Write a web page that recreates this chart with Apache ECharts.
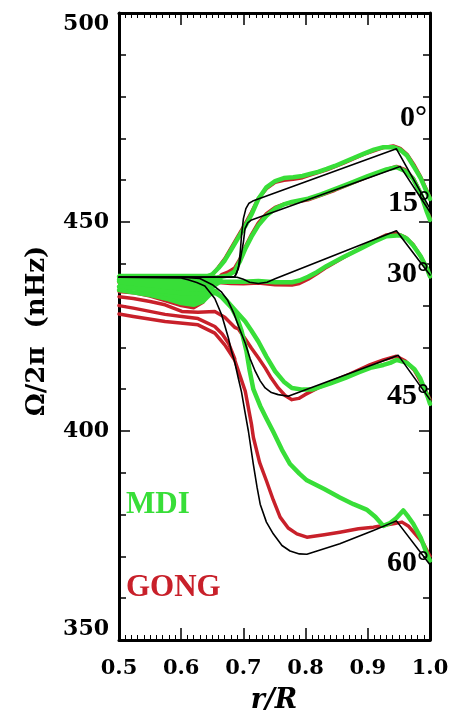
<!DOCTYPE html>
<html>
<head>
<meta charset="utf-8">
<script src="https://cdn.jsdelivr.net/npm/echarts@6/dist/echarts.min.js"></script>
<style>
html,body{margin:0;padding:0;background:#fff;}
#chart{width:452px;height:715px;}
</style>
</head>
<body>
<div id="chart"></div>
<script>
// ---- axis ticks ----
const xTicks = [0.5, 0.6, 0.7, 0.8, 0.9, 1.0];
const yTicks = [350, 400, 450, 500];

// ---- model (black) curves, [r/R, nHz] ----
const model0 = [[0.5,436.8],[0.67,436.8],[0.686,436.9],[0.692,438.9],[0.695,442.9],[0.697,446.8],[0.700,450.8],[0.704,453.2],[0.709,454.5],[0.715,455.0],[0.946,467.5],[1.0,453.2]];
const model15 = [[0.5,436.8],[0.686,436.9],[0.689,437.7],[0.6945,440.5],[0.700,445.2],[0.7026,448.4],[0.707,449.8],[0.713,450.5],[0.952,463.3],[1.0,452.4]];
const model30 = [[0.5,436.8],[0.69,436.8],[0.70,436.3],[0.71,435.6],[0.724,435.3],[0.738,435.6],[0.751,436.4],[0.946,447.9],[1.0,437.3]];
const model45 = [[0.5,436.8],[0.6,436.8],[0.63,436.5],[0.65,435],[0.665,433.2],[0.675,431.2],[0.685,428],[0.695,424],[0.703,421],[0.711,417.2],[0.719,414.3],[0.727,412],[0.735,410.3],[0.745,409.2],[0.756,408.7],[0.772,408.3],[0.949,418.1],[1.0,407.5]];
const model60 = [[0.5,436.8],[0.6,436.6],[0.611,436.2],[0.625,435.5],[0.638,434.7],[0.654,431.7],[0.665,427.8],[0.676,422.2],[0.681,419],[0.686,416.5],[0.692,412.5],[0.697,409.3],[0.702,405],[0.708,400],[0.716,392],[0.722,386.5],[0.727,382.5],[0.737,378.2],[0.748,375.4],[0.762,372.6],[0.775,371.3],[0.79,370.6],[0.802,370.5],[0.855,373],[0.909,376.2],[0.946,378.5],[1.0,368]];

// ---- MDI (green) ----
const mdiBandUpper = [[0.5,437.4],[0.645,437.4],[0.655,437],[0.665,436.3]];
const mdiBandLower = [[0.5,434.1],[0.526,433.8],[0.55,432.8],[0.574,431.6],[0.601,430.5],[0.622,430.2],[0.638,431.7],[0.654,434.5],[0.665,435.6]];
const mdi0 = [[0.5,436.9],[0.64,436.9],[0.65,437.5],[0.66,439],[0.67,440.8],[0.681,443.5],[0.692,446.3],[0.703,449],[0.713,451.8],[0.724,455.5],[0.737,458.3],[0.751,459.8],[0.765,460.5],[0.78,460.7],[0.795,461],[0.807,461.5],[0.82,462],[0.834,462.7],[0.847,463.4],[0.861,464.3],[0.877,465.3],[0.893,466.3],[0.91,467.3],[0.925,467.9],[0.941,467.9],[0.952,467.3],[0.963,465.9],[0.975,463],[0.985,460.5],[0.995,457.1],[1.0,455.5]];
const mdi15 = [[0.5,436.2],[0.645,436.2],[0.66,436.8],[0.675,437.2],[0.686,438.2],[0.695,440.8],[0.703,443.6],[0.713,446.5],[0.724,449.2],[0.737,451.5],[0.751,453.2],[0.765,454.2],[0.778,454.8],[0.804,455.6],[0.825,456.6],[0.847,457.9],[0.87,459.2],[0.9,461],[0.93,462.6],[0.946,463.1],[0.96,462.2],[0.973,460.3],[0.985,456.8],[0.995,452.4],[1.0,450.5]];
const mdi30 = [[0.5,435.8],[0.64,435.8],[0.67,435.7],[0.7,435.7],[0.724,435.9],[0.751,435.6],[0.778,435.6],[0.79,436],[0.804,436.9],[0.818,438],[0.834,439.5],[0.861,441.6],[0.888,443.6],[0.91,445.3],[0.93,446.6],[0.952,446.8],[0.963,446],[0.973,444.4],[0.985,441.8],[0.995,438.9],[1.0,437]];
const mdi45 = [[0.5,434.5],[0.55,433.8],[0.6,433],[0.64,432.8],[0.655,433],[0.67,431.7],[0.686,429],[0.703,426.2],[0.713,424],[0.724,421.4],[0.737,417.8],[0.751,414.3],[0.765,411.8],[0.778,410.3],[0.795,409.9],[0.81,409.9],[0.84,411.4],[0.864,412.7],[0.885,414],[0.904,415.1],[0.925,415.8],[0.936,416.3],[0.946,417],[0.963,416.3],[0.975,414.8],[0.984,412.7],[0.997,407.9],[1.0,406.5]];
const mdi60 = [[0.5,433.7],[0.55,432.5],[0.58,431.5],[0.6,430.6],[0.62,430.2],[0.635,431],[0.645,432.5],[0.655,433.5],[0.665,432],[0.681,429.5],[0.69,427],[0.697,424],[0.705,419],[0.71,414.5],[0.716,410],[0.727,406],[0.737,403],[0.748,399.8],[0.762,395.5],[0.775,392.1],[0.79,389.8],[0.802,388.2],[0.83,386.1],[0.855,384.1],[0.877,382.5],[0.898,381.2],[0.912,379.5],[0.925,377.3],[0.936,378],[0.946,379.2],[0.957,381],[0.965,379.5],[0.973,377.8],[0.985,374.5],[0.995,370.6],[1.0,369]];

// ---- GONG (red) ----
const gong0 = [[0.5,436.3],[0.64,436.3],[0.65,437.3],[0.66,439.2],[0.67,441.2],[0.681,444],[0.692,446.8],[0.703,449.6],[0.713,452.3],[0.724,455.6],[0.737,458],[0.751,459.5],[0.765,460],[0.78,460.2],[0.795,460.6],[0.807,461.2],[0.82,461.8],[0.834,462.5],[0.861,464.1],[0.893,466.2],[0.925,467.8],[0.941,468.2],[0.952,467.6],[0.963,466.2],[0.975,463.5],[0.985,460.8],[0.995,457.5],[1.0,455.8]];
const gong15 = [[0.5,433.4],[0.523,433.1],[0.55,432.3],[0.574,431.2],[0.6,430],[0.62,429.5],[0.635,430.8],[0.645,433],[0.655,435.6],[0.665,437.4],[0.675,438],[0.686,439],[0.695,441.3],[0.703,444],[0.713,447],[0.724,449.8],[0.737,452],[0.751,453.5],[0.765,454.3],[0.778,454.6],[0.804,455.3],[0.847,457.6],[0.9,460.8],[0.93,462.5],[0.946,463.3],[0.96,462.5],[0.973,460.5],[0.985,457],[0.995,452.8],[1.0,451]];
const gong30 = [[0.5,435.5],[0.66,435.5],[0.68,435.3],[0.7,435.2],[0.724,435.4],[0.751,435],[0.778,434.9],[0.79,435.3],[0.804,436.3],[0.818,437.6],[0.834,439.2],[0.861,441.5],[0.888,443.7],[0.91,445.5],[0.93,446.9],[0.946,447.3],[0.96,446.4],[0.973,444.6],[0.985,441.8],[0.995,438.8],[1.0,437]];
const gong45 = [[0.5,432.1],[0.523,431.7],[0.55,431],[0.574,430.2],[0.601,428.6],[0.627,428.4],[0.654,428.6],[0.67,427.2],[0.686,424.8],[0.692,424.4],[0.703,422],[0.713,419.8],[0.724,417.5],[0.735,415.1],[0.745,412.6],[0.756,410.3],[0.767,408.5],[0.778,407.5],[0.789,407.8],[0.799,408.7],[0.82,410.3],[0.845,412],[0.871,413.6],[0.904,415.9],[0.925,417],[0.946,417.9],[0.96,416.8],[0.975,414.5],[0.99,410.5],[1.0,407.5]];
const gong60 = [[0.5,428],[0.523,427.4],[0.574,426.2],[0.627,425.4],[0.654,423.4],[0.67,420.6],[0.686,417],[0.695,413],[0.703,409.5],[0.713,401.6],[0.716,398.5],[0.726,392.5],[0.737,388.1],[0.748,383.5],[0.759,379.4],[0.772,376.8],[0.786,375.4],[0.802,374.6],[0.83,375.2],[0.855,375.8],[0.885,376.6],[0.909,377],[0.941,377.8],[0.955,378.2],[0.965,377.3],[0.975,375.6],[0.989,373.2],[1.0,370]];
const gongLow = [[0.5,430],[0.523,429.4],[0.574,427.9],[0.601,427.4],[0.627,426.9],[0.654,425],[0.666,423.2],[0.676,421],[0.686,417.3]];

// ---- annotations ----
const latLabels = ['0°', '15°', '30°', '45°', '60°'];
const legendLabels = ['MDI', 'GONG'];

const GREEN = '#38de38';
const RED = '#c8202a';

function lineSeries(data, color, width, z) {
  return {
    type: 'line', data: data, xAxisIndex: 0, yAxisIndex: 0,
    showSymbol: false, symbol: 'none', smooth: false, z: z,
    lineStyle: { color: color, width: width, cap: 'round', join: 'round' },
    silent: true, animation: false
  };
}

const chart = echarts.init(document.getElementById('chart'), null, { renderer: 'canvas' });

const axisBase = {
  axisLine: { show: true, onZero: false, lineStyle: { color: '#000', width: 3 } },
  splitLine: { show: false }
};

const option = {
  backgroundColor: '#fff',
  animation: false,
  grid: { left: 119, right: 22, top: 13, bottom: 75 },
  xAxis: [
    Object.assign({}, axisBase, {
      type: 'value', position: 'bottom', min: 0.5, max: 1.0, interval: 0.1,
      axisTick: { show: true, inside: true, length: 12, lineStyle: { color: '#000', width: 1.5 } },
      minorTick: { show: true, splitNumber: 10, length: 5, lineStyle: { color: '#000', width: 1 } },
      axisLabel: {
        show: true, margin: 18, color: '#000',
        fontFamily: 'DejaVu Serif', fontWeight: 'bold', fontSize: 21,
        formatter: v => { const t = xTicks.find(k => Math.abs(k - v) < 1e-6); return t === undefined ? '' : t.toFixed(1); }
      }
    }),
    Object.assign({}, axisBase, {
      type: 'value', position: 'top', min: 0.5, max: 1.0, interval: 0.1,
      axisTick: { show: true, inside: true, length: 12, lineStyle: { color: '#000', width: 1.5 } },
      minorTick: { show: true, splitNumber: 10, length: 5, lineStyle: { color: '#000', width: 1 } },
      axisLabel: { show: false }
    })
  ],
  yAxis: [
    Object.assign({}, axisBase, {
      type: 'value', position: 'left', min: 350, max: 500, interval: 50,
      axisTick: { show: true, inside: true, length: 11, lineStyle: { color: '#000', width: 1.5 } },
      minorTick: { show: true, splitNumber: 5, length: 7, lineStyle: { color: '#000', width: 1.5 } },
      axisLabel: {
        show: true, margin: 10, color: '#000',
        fontFamily: 'DejaVu Serif', fontWeight: 'bold', fontSize: 22,
        verticalAlignMaxLabel: 'top', verticalAlignMinLabel: 'bottom',
        formatter: v => { const t = yTicks.find(k => Math.abs(k - v) < 1e-6); return t === undefined ? '' : String(t); }
      }
    }),
    Object.assign({}, axisBase, {
      type: 'value', position: 'right', min: 350, max: 500, interval: 50,
      axisTick: { show: true, inside: true, length: 11, lineStyle: { color: '#000', width: 1.5 } },
      minorTick: { show: true, splitNumber: 5, length: 7, lineStyle: { color: '#000', width: 1.5 } },
      axisLabel: { show: false }
    })
  ],
  series: [
    lineSeries(gong0, RED, 3.5, 2),
    lineSeries(gong15, RED, 3.5, 2),
    lineSeries(gong30, RED, 3.5, 2),
    lineSeries(gong45, RED, 3.5, 2),
    lineSeries(gong60, RED, 3.5, 2),
    lineSeries(gongLow, RED, 3.5, 2),
    {
      type: 'custom', xAxisIndex: 0, yAxisIndex: 0, z: 3, silent: true, animation: false,
      data: [[0.5, 437]],
      renderItem: function (params, api) {
        const pts = mdiBandUpper.concat(mdiBandLower.slice().reverse()).map(p => api.coord(p));
        return { type: 'polygon', shape: { points: pts }, style: { fill: GREEN, stroke: GREEN, lineWidth: 2 } };
      }
    },
    lineSeries(mdi0, GREEN, 4.5, 3),
    lineSeries(mdi15, GREEN, 4.5, 3),
    lineSeries(mdi30, GREEN, 4.5, 3),
    lineSeries(mdi45, GREEN, 4.5, 3),
    lineSeries(mdi60, GREEN, 4.5, 3),
    lineSeries(model0, '#000', 1.6, 4),
    lineSeries(model15, '#000', 1.6, 4),
    lineSeries(model30, '#000', 1.6, 4),
    lineSeries(model45, '#000', 1.6, 4),
    lineSeries(model60, '#000', 1.6, 4)
  ],
  graphic: [
    { type: 'text', x: 400, y: 118, z: 10, style: { text: latLabels[0], font: 'bold 30px "Liberation Serif"', fill: '#000', verticalAlign: 'middle' } },
    { type: 'text', x: 388, y: 203, z: 10, style: { text: latLabels[1], font: 'bold 30px "Liberation Serif"', fill: '#000', verticalAlign: 'middle' } },
    { type: 'text', x: 387, y: 274, z: 10, style: { text: latLabels[2], font: 'bold 30px "Liberation Serif"', fill: '#000', verticalAlign: 'middle' } },
    { type: 'text', x: 387, y: 396, z: 10, style: { text: latLabels[3], font: 'bold 30px "Liberation Serif"', fill: '#000', verticalAlign: 'middle' } },
    { type: 'text', x: 387, y: 563, z: 10, style: { text: latLabels[4], font: 'bold 30px "Liberation Serif"', fill: '#000', verticalAlign: 'middle' } },
    { type: 'text', x: 126, y: 505, z: 10, style: { text: legendLabels[0], font: 'bold 31px "Liberation Serif"', fill: GREEN, verticalAlign: 'middle' } },
    { type: 'text', x: 126, y: 588, z: 10, style: { text: legendLabels[1], font: 'bold 31px "Liberation Serif"', fill: RED, verticalAlign: 'middle' } },
    { type: 'text', x: 37, y: 331, rotation: Math.PI / 2, z: 10, style: { text: 'Ω/2π  (nHz)', font: 'bold 26px "DejaVu Serif"', fill: '#000', align: 'center', verticalAlign: 'middle' } },
    { type: 'text', x: 274, y: 701, z: 10, style: { text: 'r/R', font: 'italic bold 27px "DejaVu Serif"', fill: '#000', align: 'center', verticalAlign: 'middle' } }
  ]
};
chart.setOption(option);
</script>
</body>
</html>
